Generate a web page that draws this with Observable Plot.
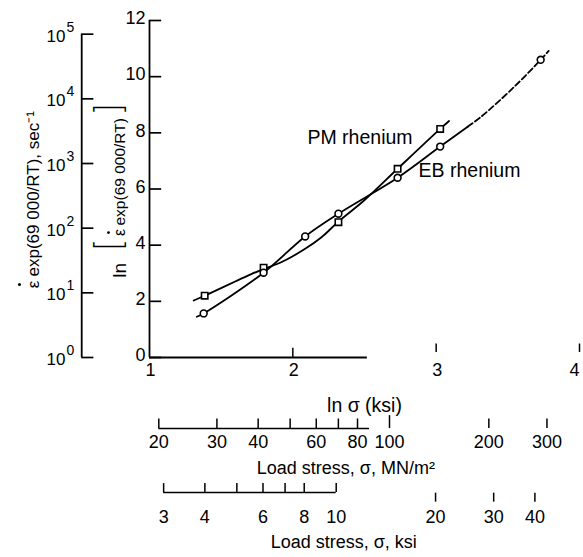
<!DOCTYPE html>
<html>
<head>
<meta charset="utf-8">
<script src="https://cdn.jsdelivr.net/npm/d3@7"></script>
<script src="https://cdn.jsdelivr.net/npm/@observablehq/plot@0.6"></script>
<style>
  html, body { margin: 0; padding: 0; background: #fff; }
  #chart svg { display: block; }
</style>
</head>
<body>
<div id="chart"></div>
<script>
// ---- Data ----
// PM rhenium: measured points (ln sigma [ksi], ln[eps_dot exp(69000/RT)])
const pmPointsX = [1.385, 1.796, 2.318, 2.731, 3.028];
const pmPointsY = [2.20, 3.20, 4.82, 6.72, 8.14];
// PM rhenium: faired curve
const pmCurveX = [1.308, 1.385, 1.71, 1.796, 1.919, 2.086, 2.20, 2.318, 2.497, 2.731, 3.028, 3.09];
const pmCurveY = [2.03, 2.20, 2.97, 3.15, 3.39, 3.87, 4.28, 4.84, 5.59, 6.72, 8.14, 8.42];

// EB rhenium: measured points
const ebPointsX = [1.378, 1.796, 2.086, 2.318, 2.731, 3.028, 3.729];
const ebPointsY = [1.57, 3.02, 4.31, 5.12, 6.40, 7.51, 10.60];
// EB rhenium: faired curve (solid part, then dashed extrapolation)
const ebSolidX = [1.33, 1.378, 1.796, 2.086, 2.318, 2.731, 3.028, 3.22];
const ebSolidY = [1.45, 1.57, 3.02, 4.31, 5.12, 6.40, 7.51, 8.22];
const ebDashX = [3.22, 3.311, 3.543, 3.729, 3.785];
const ebDashY = [8.22, 8.56, 9.63, 10.60, 10.92];

// Axes
const yTicks = [0, 2, 4, 6, 8, 10, 12];
const xTicks = [1, 2, 3, 4];
const decadeExps = [0, 1, 2, 3, 4, 5];
const mnTicks = [20, 30, 40, 50, 60, 70, 80, 100, 200, 300];
const mnLabels = [20, 30, 40, 60, 80, 100, 200, 300];
const ksiTicks = [3, 4, 5, 6, 7, 8, 10];
const ksiFarTicks = [20, 30, 40];
const ksiLabels = [3, 4, 6, 8, 10, 20, 30, 40];
const MN_PER_KSI = 6.895;

// ---- helpers ----
const zip = (xs, ys) => xs.map((x, i) => ({x, y: ys[i]}));
const lnKsi = k => Math.log(k);
const lnMN = m => Math.log(m / MN_PER_KSI);

// placement of the secondary axes (in the main chart's data units)
const LEFT_AXIS_X = 0.527;
const MN_BASE_Y = -2.53, MN_LABEL_Y = -3.03, MN_TITLE_Y = -3.95;
const KSI_BASE_Y = -4.81, KSI_LABEL_Y = -5.70, KSI_TITLE_Y = -6.59;
const OUTER_TITLE_X = 0.194, INNER_TITLE_X = 0.795, BRACKET_X = 0.724;

const FONT = "'Liberation Sans', Arial, sans-serif";
const BRACKET_FONT = "Inter, 'Open Sans', 'Liberation Sans', sans-serif";
const K = "#000";
const lastX = xTicks[xTicks.length - 1];

const plot = Plot.plot({
  width: 583,
  height: 557,
  marginLeft: 149,
  marginRight: 4,
  marginTop: 20,
  marginBottom: 200,
  x: {domain: [1, 4], axis: null},
  y: {domain: [0, 12], axis: null},
  style: {fontFamily: FONT, background: "#fff", color: K},
  marks: [
    // main y axis
    Plot.ruleX([1], {y1: 0, y2: 12, stroke: K, strokeWidth: 1.8}),
    Plot.ruleY(yTicks, {y: d => d, x1: 1, x2: 1.085, stroke: K, strokeWidth: 1.7}),
    Plot.text(yTicks, {x: 1, y: d => d, text: d => String(d), dx: -4, dy: -2, textAnchor: "end",
      fontSize: 18, fill: K}),
    // main x axis (partial baseline as in the original)
    Plot.ruleY([0], {x1: 1, x2: 2.52, stroke: K, strokeWidth: 1.8}),
    Plot.ruleX([2], {x: d => d, y1: 0, y2: 0.33, stroke: K, strokeWidth: 1.5}),
    Plot.ruleX([3, 4], {x: d => d, y1: 0.18, y2: 0.48, stroke: K, strokeWidth: 1.5}),
    Plot.text(xTicks.filter(d => d !== lastX), {x: d => d, y: 0, text: d => String(d), dx: 1, dy: 13,
      fontSize: 18, fill: K}),
    Plot.text([lastX], {x: d => d, y: 0, text: d => String(d), dx: -5, dy: 13,
      fontSize: 18, fill: K}),
    Plot.text(["ln σ (ksi)"], {x: 2.50, y: -1.71, text: d => d, fontSize: 19.5, fill: K}),

    // left log axis (10^0 .. 10^5)
    Plot.ruleX([LEFT_AXIS_X], {y1: 0, y2: 5 * Math.LN10, stroke: K, strokeWidth: 1.8}),
    Plot.ruleY(decadeExps, {y: d => d * Math.LN10, x1: LEFT_AXIS_X, x2: LEFT_AXIS_X + 0.085,
      stroke: K, strokeWidth: 1.7}),
    Plot.text(decadeExps, {x: 0.414, y: d => d * Math.LN10, text: () => "10", dy: 2,
      textAnchor: "end", fontSize: 17, fill: K}),
    Plot.text(decadeExps, {x: 0.421, y: d => d * Math.LN10, text: d => String(d), dy: -7,
      textAnchor: "start", fontSize: 14, fill: K}),

    // outer left title: eps-dot exp(69 000/RT), sec^-1
    Plot.text(["ε"], {x: OUTER_TITLE_X, y: 2.60, text: d => d, rotate: -90, fontSize: 17, fill: K}),
    Plot.dot([0], {x: 0.093, y: 2.60, r: 1.5, fill: K, stroke: null}),
    Plot.text(["exp(69 000/RT), sec⁻¹"], {x: OUTER_TITLE_X, y: 2.885, text: d => d, rotate: -90,
      textAnchor: "start", fontSize: 17, fill: K}),

    // inner left title: ln[eps-dot exp(69 000/RT)]
    Plot.text(["ln"], {x: INNER_TITLE_X, y: 3.10, text: d => d, rotate: -90, fontSize: 19, fill: K}),
    Plot.text(["["], {x: BRACKET_X, y: 3.99, text: d => d, rotate: -90, fontSize: 36, fontWeight: 200,
      fontFamily: BRACKET_FONT, fill: K}),
    Plot.text(["ε"], {x: INNER_TITLE_X, y: 4.45, text: d => d, rotate: -90, fontSize: 16, fill: K}),
    Plot.dot([0], {x: 0.714, y: 4.45, r: 1.4, fill: K, stroke: null}),
    Plot.text(["exp(69 000/RT)"], {x: INNER_TITLE_X, y: 4.70, text: d => d, rotate: -90,
      textAnchor: "start", fontSize: 15.5, fill: K}),
    Plot.text(["]"], {x: BRACKET_X, y: 8.87, text: d => d, rotate: -90, fontSize: 36, fontWeight: 200,
      fontFamily: BRACKET_FONT, fill: K}),

    // MN/m^2 axis
    Plot.ruleY([MN_BASE_Y], {x1: lnMN(20), x2: lnMN(87), stroke: K, strokeWidth: 1.5}),
    Plot.ruleX(mnTicks, {x: lnMN, y1: MN_BASE_Y, y2: d => d === 100 ? MN_BASE_Y + 0.46 : MN_BASE_Y + 0.34,
      stroke: K, strokeWidth: 1.5}),
    Plot.text(mnLabels, {x: lnMN, y: MN_LABEL_Y, text: d => String(d), fontSize: 18, fill: K}),
    Plot.text(["Load stress, σ, MN/m²"], {x: 2.37, y: MN_TITLE_Y, text: d => d, fontSize: 18, fill: K}),

    // ksi axis
    Plot.ruleY([KSI_BASE_Y], {x1: lnKsi(3), x2: lnKsi(10), stroke: K, strokeWidth: 1.5}),
    Plot.ruleX(ksiTicks, {x: lnKsi, y1: KSI_BASE_Y, y2: KSI_BASE_Y + 0.32, stroke: K, strokeWidth: 1.5}),
    Plot.ruleX(ksiFarTicks, {x: lnKsi, y1: KSI_BASE_Y - 0.34, y2: KSI_BASE_Y - 0.02, stroke: K, strokeWidth: 1.5}),
    Plot.text(ksiLabels, {x: lnKsi, y: KSI_LABEL_Y, text: d => String(d), fontSize: 18, fill: K}),
    Plot.text(["Load stress, σ, ksi"], {x: 2.355, y: KSI_TITLE_Y, text: d => d, fontSize: 18, fill: K}),

    // curves
    Plot.line(zip(pmCurveX, pmCurveY), {x: "x", y: "y", curve: "catmull-rom", stroke: K, strokeWidth: 1.8}),
    Plot.line(zip(ebSolidX, ebSolidY), {x: "x", y: "y", curve: "catmull-rom", stroke: K, strokeWidth: 1.8}),
    Plot.line(zip(ebDashX, ebDashY), {x: "x", y: "y", curve: "catmull-rom", stroke: K, strokeWidth: 1.8,
      strokeDasharray: "6,3"}),

    // points
    Plot.dot(zip(pmPointsX, pmPointsY), {x: "x", y: "y", symbol: "square", r: 3.6, fill: "#fff",
      stroke: K, strokeWidth: 1.6}),
    Plot.dot(zip(ebPointsX, ebPointsY), {x: "x", y: "y", symbol: "circle", r: 3.4, fill: "#fff",
      stroke: K, strokeWidth: 1.6}),

    // curve labels
    Plot.text(["PM rhenium"], {x: 2.102, y: 7.83, text: d => d, textAnchor: "start", fontSize: 19.5, fill: K}),
    Plot.text(["EB rhenium"], {x: 2.877, y: 6.66, text: d => d, textAnchor: "start", fontSize: 19.5, fill: K})
  ]
});
document.getElementById("chart").appendChild(plot);
</script>
</body>
</html>
